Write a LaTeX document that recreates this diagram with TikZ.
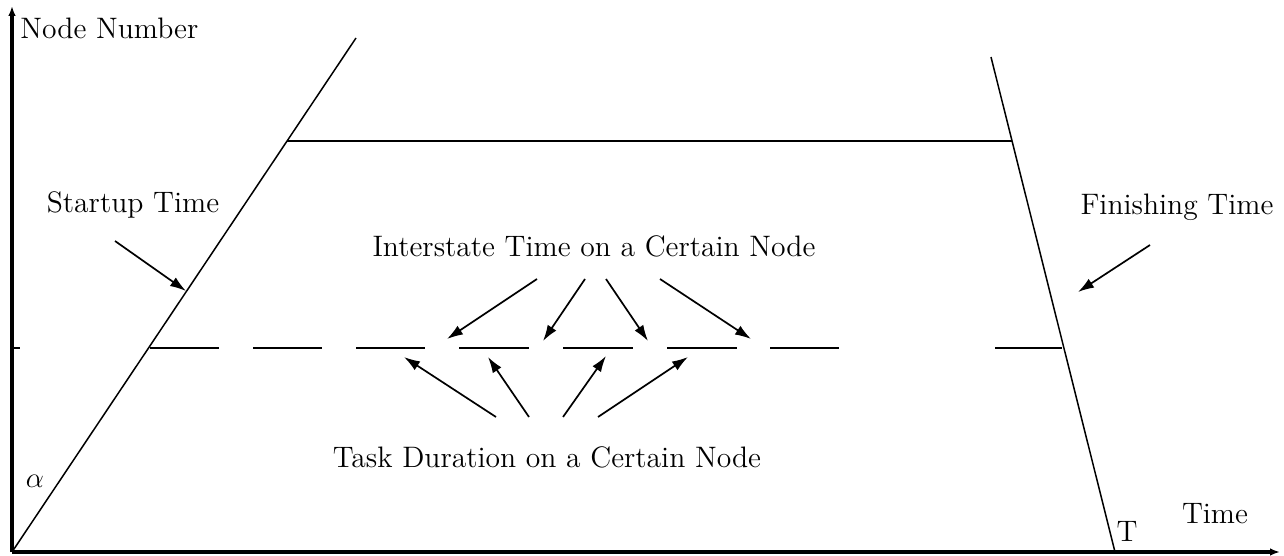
\documentclass[tikz,border=0pt]{standalone}
\usetikzlibrary{arrows.meta}
\begin{document}
\begin{tikzpicture}[x=0.5pt,y=-0.5pt,
  axis/.style={line width=1.8pt,-{Latex[length=5pt,width=3.8pt]}},
  edge/.style={line width=0.75pt},
  span/.style={line width=1.1pt},
  pointer/.style={line width=0.85pt,-{Latex[length=8pt,width=5.2pt]}},
  lbl/.style={font=\fontsize{14.8}{18}\selectfont,inner sep=0pt}]
\useasboundingbox (0,0) rectangle (1284,556);
% axes
\coordinate (O) at (12,552);
\coordinate (ytop) at (12,6);
\coordinate (xend) at (1280,552);
\draw[axis] (O) -- (ytop);
\draw[axis] (O) -- (xend);
\coordinate (tick) at (20,348);
\draw[line width=1.1pt] (12,348) -- (tick);
% start and finish boundaries
\coordinate (s0) at (O);
\coordinate (s1) at (356,38);
\coordinate (f0) at (991,57);
\coordinate (f1) at (1115,552);
\draw[edge] (s0) -- (s1);
\draw[edge] (f0) -- (f1);
% top node: one continuous task
\coordinate (topL) at (287,141);
\coordinate (topR) at (1012,141);
\draw[span] (topL) -- (topR);
% lower node: tasks separated by idle gaps
\foreach \a/\b in {150/219,253/322,356/425,459/529,563/633,667/737,770/839,995/1062}
  \draw[span] (\a,348) -- (\b,348);
% labels
\node[lbl,anchor=west] (nn) at (20,28) {Node Number};
\node[lbl] (st) at (133,205) {Startup Time};
\node[lbl] (ft) at (1177,207) {Finishing Time};
\node[lbl] (it) at (594,246) {Interstate Time on a Certain Node};
\node[lbl] (td) at (547,457) {Task Duration on a Certain Node};
\node[lbl] (al) at (35,481) {$\alpha$};
\node[lbl] (tT) at (1127,531) {T};
\node[lbl] (tm) at (1215,514) {Time};
% pointers
\draw[pointer] (115,241) -- (186,291);
\draw[pointer] (1150,245) -- (1078,292);
\draw[pointer] (537,279) -- (447,339);
\draw[pointer] (585,279) -- (543,341);
\draw[pointer] (606,279) -- (648,341);
\draw[pointer] (660,279) -- (751,339);
\draw[pointer] (496,417) -- (404,357);
\draw[pointer] (529,417) -- (488,357);
\draw[pointer] (563,417) -- (606,356);
\draw[pointer] (598,417) -- (688,357);
\end{tikzpicture}
\end{document}
